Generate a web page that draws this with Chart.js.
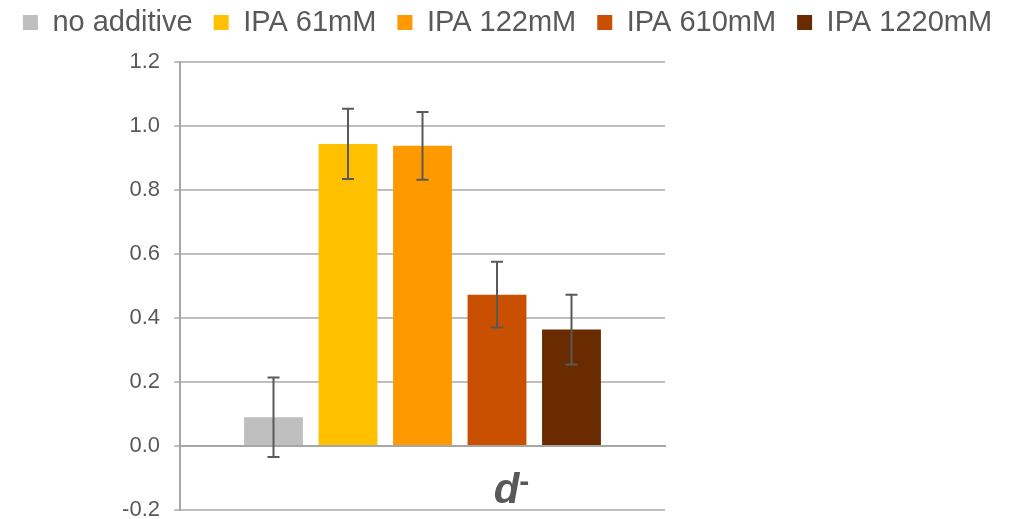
<!DOCTYPE html>
<html>
<head>
<meta charset="utf-8">
<script src="https://cdn.jsdelivr.net/npm/chart.js@4/dist/chart.umd.min.js"></script>
<style>
  html, body { margin: 0; padding: 0; background: #fff; }
  #wrap { width: 1015px; height: 519px; }
</style>
</head>
<body>
<div id="wrap"><canvas id="grafico"></canvas></div>
<script>
const categorias = ['d\u207B'];
const series = ['no additive', 'IPA 61mM', 'IPA 122mM', 'IPA 610mM', 'IPA 1220mM'];
const valores = [0.09, 0.944, 0.938, 0.473, 0.364];
const erros = [0.124, 0.11, 0.106, 0.103, 0.109];
const cores = ['#bfbfbf', '#ffc000', '#ff9900', '#c95000', '#6b2b00'];
const ticksY = [-0.2, 0, 0.2, 0.4, 0.6, 0.8, 1.0, 1.2];

const cinza = '#595959';
const fonte = 'Liberation Sans, Arial, sans-serif';

// barras de erro desenhadas pelas escalas do grafico
const barrasErro = {
  id: 'barrasErro',
  afterDatasetsDraw(chart) {
    const ctx = chart.ctx;
    const y = chart.scales.y;
    ctx.save();
    ctx.strokeStyle = cinza;
    ctx.lineWidth = 2;
    chart.data.datasets.forEach((ds, i) => {
      const meta = chart.getDatasetMeta(i);
      meta.data.forEach((bar, j) => {
        const v = ds.data[j];
        const e = ds.erro[j];
        const x = bar.x;
        const yt = y.getPixelForValue(v + e);
        const yb = y.getPixelForValue(v - e);
        ctx.beginPath();
        ctx.moveTo(x, yt); ctx.lineTo(x, yb);
        ctx.moveTo(x - 6, yt); ctx.lineTo(x + 6, yt);
        ctx.moveTo(x - 6, yb); ctx.lineTo(x + 6, yb);
        ctx.stroke();
      });
    });
    ctx.restore();
  }
};

// rotulo da categoria (d com sinal sobrescrito), abaixo do eixo em y = 0
const rotuloCategoria = {
  id: 'rotuloCategoria',
  afterDraw(chart) {
    const ctx = chart.ctx;
    const x = chart.scales.x;
    const y0 = chart.scales.y.getPixelForValue(0);
    ctx.save();
    ctx.fillStyle = cinza;
    ctx.textBaseline = 'alphabetic';
    categorias.forEach((cat, i) => {
      const base = cat.replace('\u207B', '');
      const cx = x.getPixelForValue(i) + 84;
      ctx.font = 'italic bold 42px ' + fonte;
      const w = ctx.measureText(base).width;
      ctx.textAlign = 'center';
      ctx.fillText(base, cx, y0 + 57);
      if (cat.includes('\u207B')) {
        ctx.font = 'bold 30px ' + fonte;
        ctx.textAlign = 'left';
        ctx.fillText('-', cx + w / 2, y0 + 45);
      }
    });
    ctx.restore();
  }
};

const datasets = series.map((nome, i) => ({
  label: nome,
  data: [valores[i]],
  erro: [erros[i]],
  backgroundColor: cores[i],
  borderWidth: 0,
  categoryPercentage: 0.768,
  barPercentage: 0.79
}));

new Chart(document.getElementById('grafico'), {
  type: 'bar',
  data: { labels: categorias, datasets: datasets },
  plugins: [barrasErro, rotuloCategoria],
  options: {
    responsive: true,
    maintainAspectRatio: false,
    animation: false,
    layout: { padding: { left: 0, right: 0, top: -13, bottom: 9 } },
    plugins: {
      legend: {
        position: 'top',
        labels: {
          boxWidth: 15,
          boxHeight: 15,
          color: cinza,
          padding: 21,
          font: { family: fonte, size: 29 }
        }
      },
      tooltip: { enabled: false }
    },
    scales: {
      x: {
        position: { y: 0 },
        afterFit(scale) { scale.height = 0; },
        grid: { display: false },
        border: { color: '#a6a6a6', width: 2 },
        ticks: { display: false }
      },
      y: {
        min: -0.2,
        max: 1.2,
        afterFit(scale) { scale.width = 180; scale.paddingBottom = 0; },
        afterBuildTicks(scale) { scale.ticks = ticksY.map(v => ({ value: v })); },
        grid: { color: '#bfbfbf', lineWidth: 2, tickLength: 6 },
        border: { color: '#a6a6a6', width: 2 },
        ticks: {
          color: cinza,
          padding: 14,
          font: { family: fonte, size: 22 },
          callback: v => v.toFixed(1)
        }
      },
      vazio: {
        type: 'linear',
        position: 'right',
        afterFit(scale) { scale.width = 350; },
        grid: { display: false },
        border: { display: false },
        ticks: { display: false }
      },
      topo: {
        type: 'category',
        labels: categorias,
        position: 'top',
        afterFit(scale) { scale.height = 15; },
        grid: { display: false },
        border: { display: false },
        ticks: { display: false }
      }
    }
  }
});
</script>
</body>
</html>
